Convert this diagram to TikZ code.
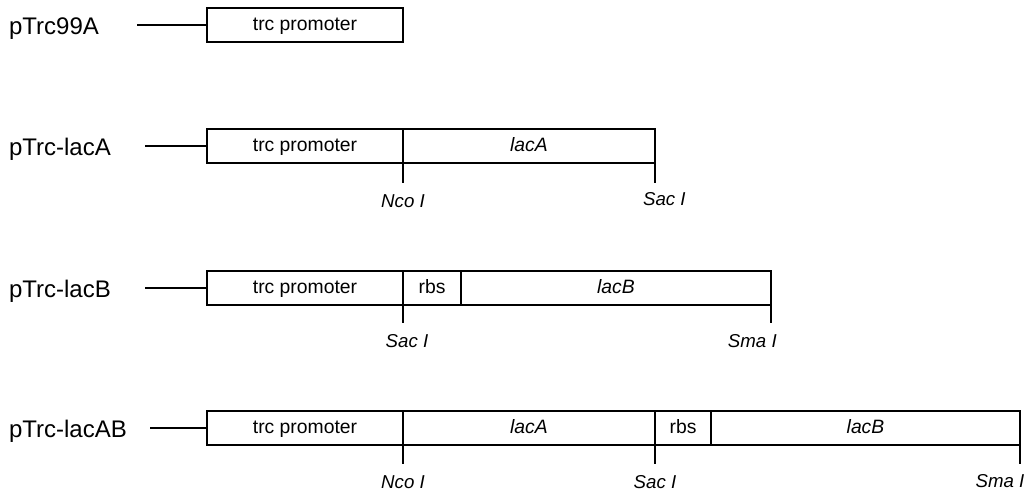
\documentclass[tikz,border=0pt]{standalone}
\usepackage{fontspec}
\setmainfont{Liberation Sans}
\usetikzlibrary{positioning}
\begin{document}
\begin{tikzpicture}[x=0.75pt, y=-0.75pt, line width=1.6pt,
  seg/.style={draw, line width=1.7pt, minimum width=#1*0.75pt, minimum height=25.5pt,
    inner sep=0pt, outer sep=0pt, anchor=west, text height=11.5pt, text depth=3pt,
    font=\fontsize{14.5}{17}\selectfont},
  plasmid/.style={anchor=west, inner sep=0pt, text height=17pt, text depth=3pt,
    font=\fontsize{18}{21}\selectfont},
  site/.style={inner sep=0pt, font=\fontsize{14}{16}\selectfont\itshape}]
  \useasboundingbox (0,0) rectangle (1027,491);
  % pTrc99A
  \node[plasmid] (n99) at (8,25) {pTrc99A};
  \node[seg=196] (p99) at (207,25) {trc promoter};
  \coordinate (s99) at (137,25);
  \draw[line width=0.8pt] (s99) -- (p99);
  % pTrc-lacA
  \node[plasmid] (nA) at (8,146) {pTrc-lacA};
  \node[seg=196] (pA) at (207,146) {trc promoter};
  \node[seg=252, right=0pt of pA] (gA) {\itshape lacA};
  \coordinate (sA) at (145,146);
  \draw (sA) -- (pA);
  \draw (pA.south east) -- ++(0,20) coordinate (tA1);
  \draw (gA.south east) -- ++(0,20) coordinate (tA2);
  \node[site, below=8pt of tA1] {Nco I};
  \node[site, below=6pt of tA2, xshift=7pt] {Sac I};
  % pTrc-lacB
  \node[plasmid] (nB) at (8,288) {pTrc-lacB};
  \node[seg=196] (pB) at (207,288) {trc promoter};
  \node[seg=58, right=0pt of pB] (rB) {rbs};
  \node[seg=310, right=0pt of rB] (gB) {\itshape lacB};
  \coordinate (sB) at (145,288);
  \draw (sB) -- (pB);
  \draw (pB.south east) -- ++(0,18) coordinate (tB1);
  \draw (gB.south east) -- ++(0,18) coordinate (tB2);
  \node[site, below=8pt of tB1, xshift=3pt] {Sac I};
  \node[site, below=8pt of tB2, xshift=-14pt] {Sma I};
  % pTrc-lacAB
  \node[plasmid] (nAB) at (8,428) {pTrc-lacAB};
  \node[seg=196] (pAB) at (207,428) {trc promoter};
  \node[seg=252, right=0pt of pAB] (gAB1) {\itshape lacA};
  \node[seg=56, right=0pt of gAB1] (rAB) {rbs};
  \node[seg=309, right=0pt of rAB] (gAB2) {\itshape lacB};
  \coordinate (sAB) at (150,428);
  \draw (sAB) -- (pAB);
  \draw (pAB.south east) -- ++(0,19) coordinate (tAB1);
  \draw (gAB1.south east) -- ++(0,19) coordinate (tAB2);
  \draw (gAB2.south east) -- ++(0,19) coordinate (tAB3);
  \node[site, below=8pt of tAB1] {Nco I};
  \node[site, below=8pt of tAB2] {Sac I};
  \node[site, below=7pt of tAB3, xshift=-15pt] {Sma I};
\end{tikzpicture}
\end{document}
